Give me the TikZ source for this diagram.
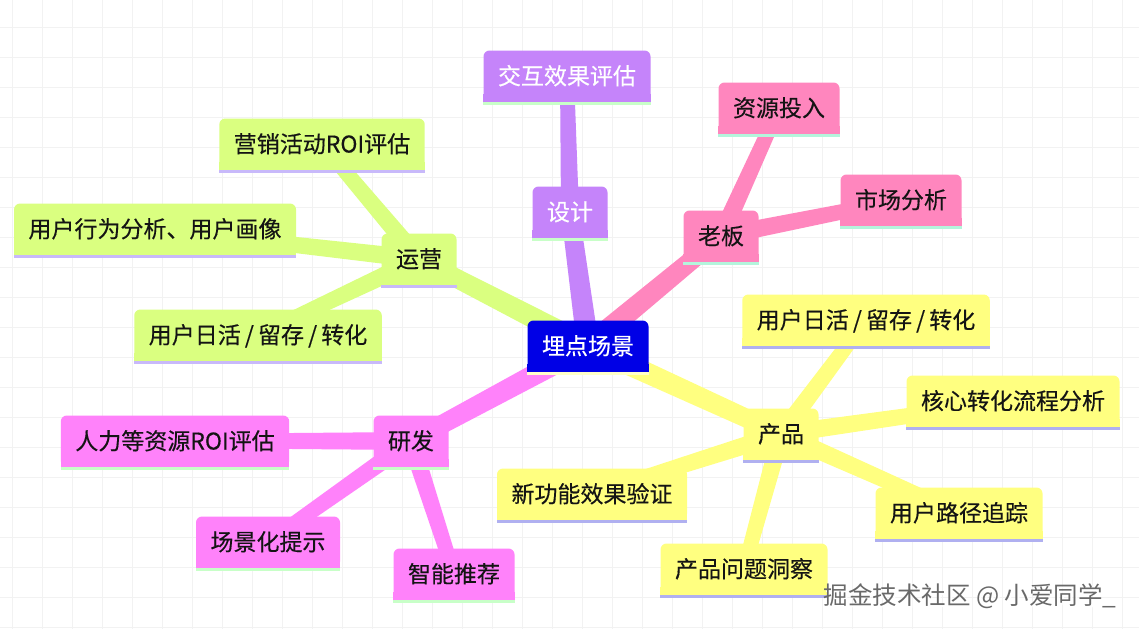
\documentclass[tikz,border=0pt]{standalone}
\usepackage{fontspec}
\newfontfamily\cjk[FakeBold=0.35]{Noto Sans CJK SC}
\newfontfamily\cjkwm{Noto Sans CJK SC}
\usetikzlibrary{calc,backgrounds}
\definecolor{cpurple}{RGB}{197,132,250}
\definecolor{cpink}{RGB}{255,134,190}
\definecolor{clime}{RGB}{218,255,128}
\definecolor{cmag}{RGB}{255,130,250}
\definecolor{cyel}{RGB}{255,255,128}
\definecolor{cblue}{RGB}{0,0,230}
\definecolor{ulgreen}{RGB}{200,255,200}
\definecolor{ulmint}{RGB}{180,245,220}
\definecolor{ullav}{RGB}{200,185,250}
\definecolor{ulblue}{RGB}{176,176,240}
\definecolor{ulyel}{RGB}{255,255,200}
\definecolor{gridc}{RGB}{242,242,242}
\definecolor{txt}{RGB}{20,20,20}
\definecolor{wmc}{RGB}{105,105,105}
\newcommand\branch[5]{\fill[#5] ($(#1)!#3!90:(#2)$) -- ($(#2)!#4!-90:(#1)$) -- ($(#2)!#4!90:(#1)$) -- ($(#1)!#3!-90:(#2)$) -- cycle;}
\newcommand\slsep{\makebox[0.75em]{/}}
\begin{document}
\begin{tikzpicture}[x=1pt,y=-1pt,
  box/.style={fill=#1, rounded corners=6pt, inner xsep=14.5pt, inner ysep=0pt,
    minimum height=51pt, text height=19.5pt, text depth=2.5pt,
    font=\cjk\fontsize{23}{23}\selectfont, text=txt}]
\useasboundingbox (0,0) rectangle (1139,629);
\begin{pgfonlayer}{background}
\fill[white] (0,0) rectangle (1139,629);
\foreach \x in {12,42,...,1139} \draw[gridc, line width=1pt] (\x,0) -- (\x,629);
\foreach \y in {27,57,...,629} \draw[gridc, line width=1pt] (0,\y) -- (1139,\y);
\end{pgfonlayer}

% nodes
\node[box=cblue, text=white] (c) at (588,346) {埋点场景};
\node[box=cpurple, text=white] (sj) at (570,212) {设计};
\node[box=cpurple, text=white] (jh) at (567,76) {交互效果评估};
\node[box=cpink] (lb) at (721,236) {老板};
\node[box=cpink] (zy) at (779,108) {资源投入};
\node[box=cpink] (sc) at (901,200) {市场分析};
\node[box=clime] (yy) at (419,259) {运营};
\node[box=clime] (yx) at (322,144) {营销活动ROI评估};
\node[box=clime] (hw) at (155,229) {用户行为分析、用户画像};
\node[box=clime] (rl) at (258,335) {用户日活\slsep 留存\slsep 转化};
\node[box=cyel] (cp) at (781,434) {产品};
\node[box=cyel] (rr) at (866,320) {用户日活\slsep 留存\slsep 转化};
\node[box=cyel] (hx) at (1013,401) {核心转化流程分析};
\node[box=cyel] (xg) at (592,494) {新功能效果验证};
\node[box=cyel] (lj) at (959,513) {用户路径追踪};
\node[box=cyel] (wt) at (744,569) {产品问题洞察};
\node[box=cmag] (yf) at (411,441) {研发};
\node[box=cmag] (rg) at (175,441) {人力等资源ROI评估};
\node[box=cmag] (cj) at (268,542) {场景化提示};
\node[box=cmag] (zn) at (454,574) {智能推荐};

% square bottoms and underline strips
\foreach \n/\f/\u in {c/cblue/ulyel, sj/cpurple/ulgreen, jh/cpurple/ulgreen,
  lb/cpink/ulmint, zy/cpink/ulmint, sc/cpink/ulmint,
  yy/clime/ullav, yx/clime/ullav, hw/clime/ullav, rl/clime/ullav,
  cp/cyel/ulblue, rr/cyel/ulblue, hx/cyel/ulblue, xg/cyel/ulblue, lj/cyel/ulblue, wt/cyel/ulblue,
  yf/cmag/ulgreen, rg/cmag/ulgreen, cj/cmag/ulgreen, zn/cmag/ulgreen} {
  \fill[\f] ([yshift=8pt]\n.south west) rectangle (\n.south east);
  \fill[\u] (\n.south west) rectangle ([yshift=-3.5pt]\n.south east);
}

% connectors
\begin{pgfonlayer}{background}
\branch{c}{sj}{11pt}{9pt}{cpurple}
\branch{sj}{jh}{9pt}{7pt}{cpurple}
\branch{c}{lb}{11pt}{9pt}{cpink}
\branch{lb}{zy}{9pt}{7pt}{cpink}
\branch{lb}{sc}{9pt}{7pt}{cpink}
\branch{c}{yy}{11pt}{9pt}{clime}
\branch{yy}{yx}{9pt}{7pt}{clime}
\branch{yy}{hw}{9pt}{7pt}{clime}
\branch{yy}{rl}{9pt}{7pt}{clime}
\branch{c}{cp}{11pt}{9pt}{cyel}
\branch{cp}{rr}{9pt}{7pt}{cyel}
\branch{cp}{hx}{9pt}{7pt}{cyel}
\branch{cp}{xg}{9pt}{7pt}{cyel}
\branch{cp}{lj}{9pt}{7pt}{cyel}
\branch{cp}{wt}{9pt}{7pt}{cyel}
\branch{c}{yf}{11pt}{9pt}{cmag}
\branch{yf}{rg}{9pt}{7pt}{cmag}
\branch{yf}{cj}{9pt}{7pt}{cmag}
\branch{yf}{zn}{9pt}{7pt}{cmag}
\end{pgfonlayer}

% watermark
\node[font=\cjkwm\fontsize{24.5}{24.5}\selectfont, text=white] (wms) at (972,598) {掘金技术社区 @ 小爱同学\_};
\node[font=\cjkwm\fontsize{24.5}{24.5}\selectfont, text=wmc] (wm) at (970,596) {掘金技术社区 @ 小爱同学\_};
\end{tikzpicture}
\end{document}
